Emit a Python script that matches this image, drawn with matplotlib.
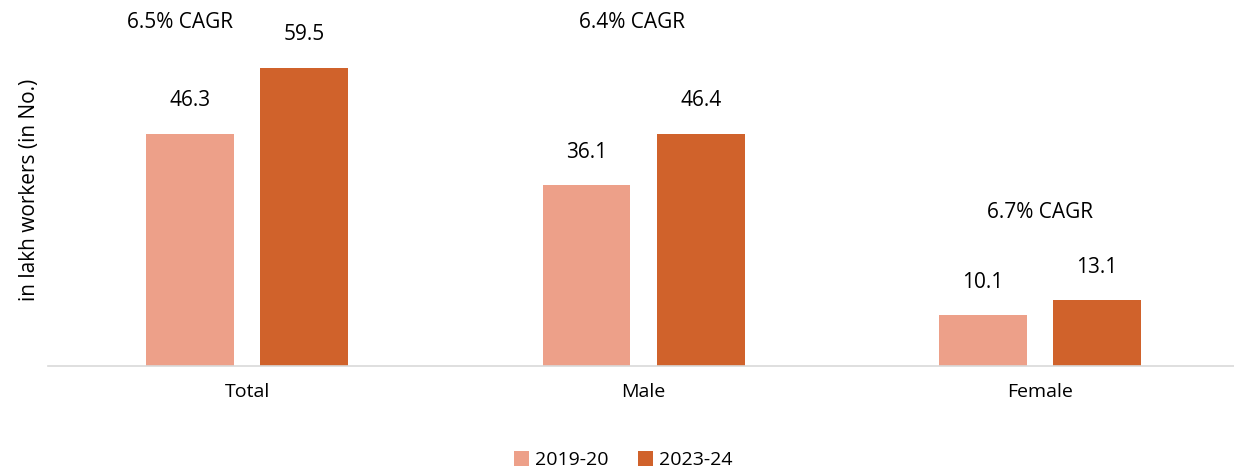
import matplotlib.pyplot as plt
import numpy as np

plt.rcParams['font.family'] = ['Open Sans', 'DejaVu Sans']

categorias = ["Total", "Male", "Female"]
v_2019 = [46.3, 36.1, 10.1]
v_2023 = [59.5, 46.4, 13.1]
cagr = ["6.5% CAGR", "6.4% CAGR", "6.7% CAGR"]

cor_clara = "#EDA089"
cor_escura = "#D0622B"

fig = plt.figure(figsize=(12.34, 4.72), dpi=100)
ax = fig.add_axes([48/1234, 106/472, 1186/1234, 366/472])

x = np.arange(len(categorias))
w = 0.222
off = 0.144
b1 = ax.bar(x - off, v_2019, w, color=cor_clara, label="2019-20")
b2 = ax.bar(x + off, v_2023, w, color=cor_escura, label="2023-24")

for xi, v in zip(x - off, v_2019):
    ax.text(xi, v + 4.5, f"{v}", ha="center", va="bottom", fontsize=15)
for xi, v in zip(x + off, v_2023):
    ax.text(xi, v + 4.5, f"{v}", ha="center", va="bottom", fontsize=15)

# posições dos rótulos de CAGR
ax.text(-0.17, 66.5, cagr[0], ha="center", va="bottom", fontsize=15)
ax.text(0.97, 66.5, cagr[1], ha="center", va="bottom", fontsize=15)
ax.text(2.0, 28.5, cagr[2], ha="center", va="bottom", fontsize=15)

ax.set_xlim(-0.503, 2.49)
ax.set_ylim(0, 73.05)
ax.set_xticks(x)
ax.set_xticklabels(categorias, fontsize=14)
ax.tick_params(axis="x", length=0, pad=12)
ax.set_yticks([])
for s in ["top", "right", "left"]:
    ax.spines[s].set_visible(False)
ax.spines["bottom"].set_color("#d9d9d9")
ax.spines["bottom"].set_linewidth(1.2)
ax.patch.set_alpha(0)

fig.text(30/1234, 1 - 190/472, "in lakh workers (in No.)", rotation=90,
         ha="center", va="center", fontsize=15)

fig.legend(handles=[b1, b2], loc="center", bbox_to_anchor=(0.505, 1 - 460/472),
           ncol=2, frameon=False, fontsize=14, handlelength=0.8, handleheight=0.8,
           handletextpad=0.3, columnspacing=1.5)

fig.savefig("out.png", dpi=100)
